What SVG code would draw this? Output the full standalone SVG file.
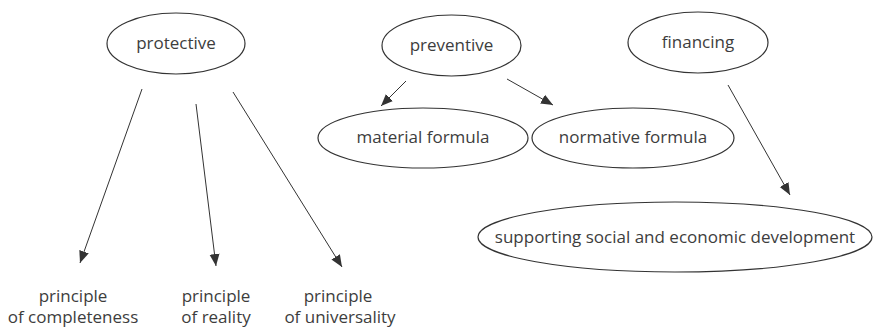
<svg xmlns="http://www.w3.org/2000/svg" width="873" height="327" viewBox="0 0 873 327">
<defs>
<style>
.n ellipse{fill:#fff;stroke:#333;stroke-width:1.2}
text{font-family:"Open Sans","Noto Sans",sans-serif;font-size:17px;fill:#3d3d3d;text-anchor:middle}
.c line{stroke:#333;stroke-width:1}
</style>
<marker id="ah" viewBox="0 0 12 12" refX="12" refY="6" markerWidth="12" markerHeight="12" markerUnits="userSpaceOnUse" orient="auto">
<path d="M0,1 L12,6 L0,11 Z" fill="#333"/>
</marker>
</defs>
<rect width="873" height="327" fill="#fff"/>
<g class="c">
<line x1="142" y1="89" x2="80" y2="263" marker-end="url(#ah)"/>
<line x1="196" y1="104" x2="216" y2="266" marker-end="url(#ah)"/>
<line x1="233" y1="92" x2="342" y2="267" marker-end="url(#ah)"/>
<line x1="406" y1="81" x2="381" y2="106" marker-end="url(#ah)"/>
<line x1="507" y1="79" x2="553" y2="105" marker-end="url(#ah)"/>
<line x1="728" y1="85" x2="790" y2="195" marker-end="url(#ah)"/>
</g>
<g id="protective" class="n"><ellipse cx="176" cy="43.5" rx="69" ry="30.5"/><text x="176" y="49">protective</text></g>
<g id="preventive" class="n"><ellipse cx="451.5" cy="45.5" rx="69.5" ry="30.5"/><text x="451.5" y="51">preventive</text></g>
<g id="financing" class="n"><ellipse cx="698" cy="42.5" rx="70" ry="30.5"/><text x="698" y="48">financing</text></g>
<g id="material" class="n"><ellipse cx="423" cy="138" rx="105" ry="30"/><text x="423" y="143">material formula</text></g>
<g id="normative" class="n"><ellipse cx="633" cy="138" rx="101" ry="30"/><text x="633" y="143">normative formula</text></g>
<g id="supporting" class="n"><ellipse cx="675" cy="237" rx="197" ry="35"/><text x="675" y="243">supporting social and economic development</text></g>
<g id="completeness"><text x="73" y="302">principle</text><text x="73" y="323">of completeness</text></g>
<g id="reality"><text x="216" y="302">principle</text><text x="216" y="323">of reality</text></g>
<g id="universality"><text x="338" y="302">principle</text><text x="340" y="323">of universality</text></g>
</svg>
